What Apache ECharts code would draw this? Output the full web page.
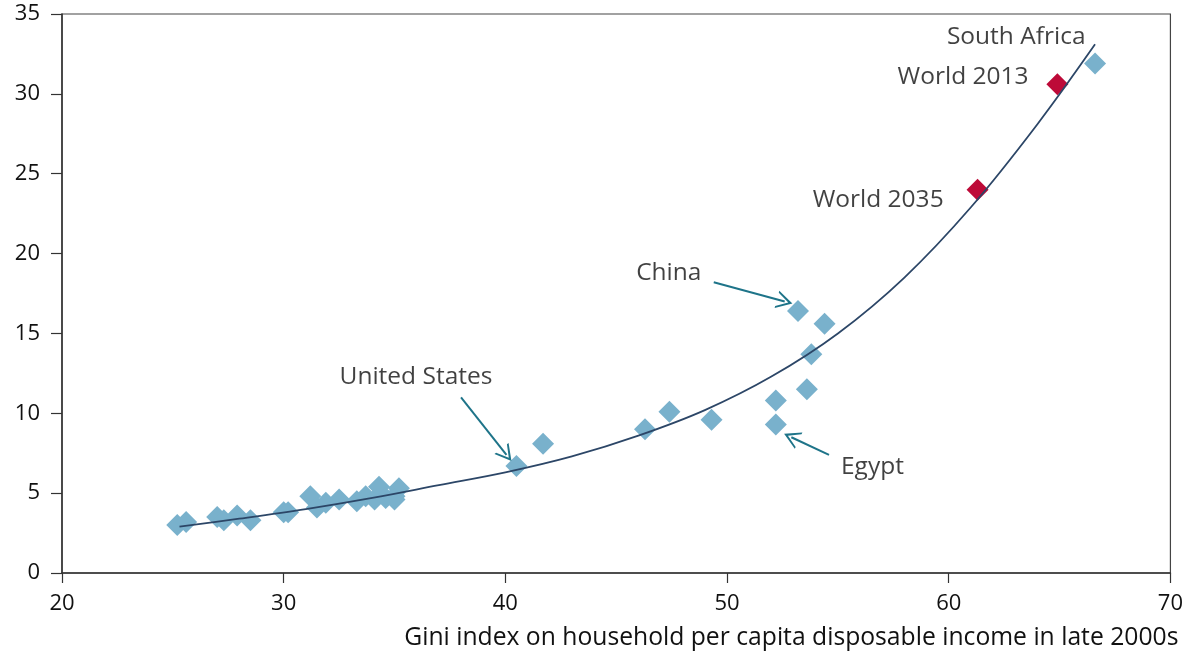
<!DOCTYPE html>
<html><head><meta charset="utf-8">
<script src="https://cdn.jsdelivr.net/npm/echarts@6/dist/echarts.min.js"></script>
<style>html,body{margin:0;padding:0;background:#fff}#c{width:1186px;height:658px}</style>
</head><body><div id="c"></div>
<script>
// Countries: [Gini index, y value]
const countries = [
  [25.2,3.0],[25.6,3.2],[27.0,3.5],[27.3,3.3],[27.9,3.6],[28.5,3.3],
  [30.0,3.8],[30.2,3.8],[31.2,4.8],[31.5,4.1],[31.9,4.4],[32.5,4.6],
  [33.3,4.5],[33.7,4.8],[34.1,4.6],[34.3,5.4],[34.6,4.7],[35.0,4.8],
  [35.2,5.3],[35.0,4.6],
  [40.5,6.7],[41.7,8.1],[46.3,9.0],[47.4,10.1],[49.3,9.6],
  [52.2,10.8],[52.2,9.3],[53.6,11.5],[53.8,13.7],[53.2,16.4],[54.4,15.6],
  [66.6,31.9]
];
const world = [[61.3,24.0],[64.9,30.6]];
// fitted trend curve
const trend = [
  [25.3,2.9],[28,3.4],[31,4.0],[34,4.7],[37,5.5],[40,6.3],[43,7.3],
  [46,8.6],[49,10.2],[52,12.3],[55,15.0],[58,18.5],[61,22.9],[64,28.1],[66.6,33.1]
];
const xTicks = [20,30,40,50,60,70];
const yTicks = [0,5,10,15,20,25,30,35];
const labels = [
  {text:'South Africa', x:66.17, y:33.56, align:'right'},
  {text:'World 2013', x:63.6, y:31.05, align:'right'},
  {text:'World 2035', x:59.77, y:23.36, align:'right'},
  {text:'China', x:45.9, y:18.8, align:'left'},
  {text:'United States', x:32.52, y:12.27, align:'left'},
  {text:'Egypt', x:55.14, y:6.64, align:'left'}
];
const arrows = [
  [[49.4,18.2],[52.6,17.0]],
  [[38.0,11.0],[40.05,7.4]],
  [[54.6,7.4],[52.9,8.5]]
];
const FONT = 'Open Sans';
const TXT = '#111';
const chart = echarts.init(document.getElementById('c'));
chart.setOption({
  animation:false,
  grid:{left:62,right:14,top:14,bottom:85,show:true,borderColor:'#444',borderWidth:1.2},
  xAxis:{type:'value',min:20,max:70,interval:10,
    axisLine:{show:true,onZero:false,lineStyle:{color:'#333',width:1.5}},
    axisTick:{show:true,inside:false,length:10,lineStyle:{color:'#333',width:1.2}},
    axisLabel:{margin:20,fontFamily:FONT,fontSize:22,color:TXT,
      formatter:v=>xTicks.includes(v)?String(v):''},
    splitLine:{show:false},
    name:'Gini index on household per capita disposable income in late 2000s',
    nameLocation:'end',nameGap:0,
    nameTextStyle:{fontFamily:FONT,fontSize:24.7,color:TXT,align:'right',verticalAlign:'top',padding:[52,-8,0,0]}
  },
  yAxis:{type:'value',min:0,max:35,interval:5,
    axisLine:{show:true,lineStyle:{color:'#333',width:1.5}},
    axisTick:{show:true,inside:false,length:11,lineStyle:{color:'#333',width:1.2}},
    axisLabel:{margin:22,fontFamily:FONT,fontSize:22,color:TXT,
      formatter:v=>yTicks.includes(v)?String(v):''},
    splitLine:{show:false}
  },
  series:[
    {type:'scatter',data:countries,symbol:'diamond',symbolSize:22,
      itemStyle:{color:'#79b1cc',opacity:1},z:2},
    {type:'scatter',data:world,symbol:'diamond',symbolSize:22,
      itemStyle:{color:'#bd0a38',opacity:1},z:2},
    {type:'line',data:trend,smooth:0.35,showSymbol:false,symbol:'none',
      lineStyle:{color:'#2c4667',width:1.8},z:3},
    {type:'scatter',data:labels.map(l=>({value:[l.x,l.y],label:{align:l.align,formatter:l.text}})),
      symbolSize:0,silent:true,z:5,
      label:{show:true,position:'inside',fontFamily:FONT,fontSize:24.5,color:TXT,verticalAlign:'middle'}},
    {type:'line',data:[],silent:true,
      markLine:{silent:true,symbol:['none','path://M0,12 L6,0 L12,12 L10.6,12 L6,3.2 L1.4,12 Z'],symbolSize:[18,16],
        lineStyle:{color:'#1e7489',width:2,type:'solid'},label:{show:false},
        data:arrows.map(a=>[{coord:a[0]},{coord:a[1]}])}}
  ]
});
</script></body></html>
